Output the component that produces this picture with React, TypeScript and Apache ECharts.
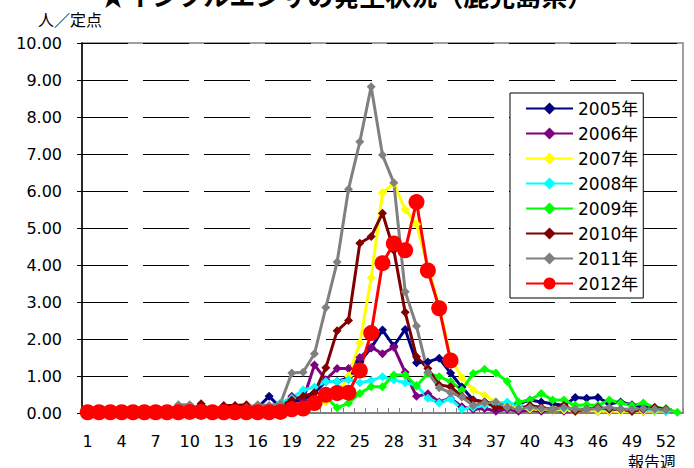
import React, { useEffect, useRef } from "react";
import * as echarts from "echarts";

const weeks = [
  "1","2","3","4","5","6","7","8","9","10","11","12","13","14","15","16","17","18","19","20",
  "21","22","23","24","25","26","27","28","29","30","31","32","33","34","35","36","37","38","39","40",
  "41","42","43","44","45","46","47","48","49","50","51","52","53",
];

const yTicks = [0, 1, 2, 3, 4, 5, 6, 7, 8, 9, 10];

const y2005 = [
  0.02,0.02,0.02,0.02,0.02,0.02,0.02,0.03,0.05,0.08,0.05,0.08,0.1,0.1,0.12,0.15,0.45,0.15,0.3,0.35,
  0.55,0.85,0.85,0.95,1.38,1.76,2.24,1.81,2.26,1.36,1.38,1.48,1.08,0.7,0.35,0.3,0.25,0.2,0.25,0.35,
  0.3,0.25,0.2,0.42,0.4,0.42,0.25,0.3,0.22,0.15,0.15,0.08,null,
];
const y2006 = [
  0.02,0.02,0.02,0.02,0.02,0.02,0.02,0.02,0.02,0.03,0.03,0.05,0.05,0.05,0.08,0.08,0.1,0.2,0.45,0.35,
  1.3,0.9,1.2,1.2,1.5,1.78,1.6,1.78,1.1,0.45,0.52,0.3,0.4,0.17,0.1,0.12,0.05,0.1,0.05,0.08,
  0.05,0.08,0.05,0.05,0.08,0.05,0.05,0.08,0.05,0.05,0.05,0.05,null,
];
const y2007 = [
  0.02,0.02,0.02,0.02,0.02,0.02,0.02,0.02,0.02,0.02,0.02,0.02,0.02,0.02,0.02,0.03,0.03,0.03,0.05,0.1,
  0.2,0.3,0.5,1.0,1.9,3.65,5.95,6.2,5.5,5.1,3.95,2.9,1.5,0.95,0.62,0.48,0.3,0.2,0.15,0.1,
  0.1,0.08,0.08,0.05,0.08,0.05,0.05,0.05,0.05,0.05,0.05,0.05,null,
];
const y2008 = [
  0.03,0.03,0.03,0.03,0.03,0.03,0.03,0.03,0.03,0.03,0.03,0.05,0.05,0.05,0.08,0.1,0.15,0.27,0.4,0.62,
  0.7,0.85,0.85,0.9,0.82,0.88,0.98,0.89,0.82,0.75,0.4,0.27,0.38,0.1,0.15,0.2,0.25,0.3,0.2,0.15,
  0.12,0.1,0.12,0.1,0.1,0.12,0.1,0.1,0.1,0.08,0.08,0.05,null,
];
const y2009 = [
  0.0,0.0,0.0,0.0,0.0,0.0,0.0,0.0,0.0,0.0,0.0,0.0,0.0,0.0,0.02,0.02,0.03,0.05,0.1,0.2,
  0.3,0.44,0.14,0.27,0.53,0.71,0.71,1.03,1.03,0.73,1.07,0.98,0.85,0.62,1.07,1.18,1.08,0.85,0.3,0.35,
  0.53,0.35,0.35,0.2,0.22,0.2,0.35,0.27,0.2,0.27,0.15,0.12,0.02,
];
const y2010 = [
  0.02,0.02,0.02,0.02,0.02,0.02,0.02,0.02,0.03,0.05,0.25,0.05,0.2,0.2,0.22,0.1,0.15,0.2,0.35,0.45,
  0.55,1.22,2.22,2.5,4.59,4.77,5.4,4.4,2.72,1.52,1.2,0.76,0.71,0.45,0.35,0.3,0.15,0.15,0.1,0.2,
  0.15,0.1,0.2,0.05,0.1,0.15,0.1,0.1,0.05,0.1,0.15,0.1,null,
];
const y2011 = [
  0.02,0.02,0.02,0.02,0.02,0.02,0.02,0.02,0.22,0.22,0.1,0.1,0.1,0.1,0.15,0.22,0.2,0.25,1.08,1.1,
  1.6,2.85,4.08,6.05,7.33,8.82,6.97,6.22,3.28,2.35,1.1,0.68,0.55,0.43,0.2,0.28,0.3,0.15,0.1,0.15,
  0.12,0.1,0.15,0.1,0.1,0.12,0.15,0.1,0.1,0.12,0.1,0.08,null,
];
const y2012 = [
  0.02,0.02,0.02,0.02,0.02,0.02,0.02,0.02,0.02,0.03,0.03,0.02,0.02,0.02,0.02,0.02,0.02,0.03,0.1,0.12,
  0.27,0.49,0.54,0.55,1.15,2.16,4.05,4.58,4.4,5.7,3.85,2.83,1.42,null,null,null,null,null,null,null,
  null,null,null,null,null,null,null,null,null,null,null,null,null,
];

const seriesDefs = [
  { name: "2005年", data: y2005, color: "#000080", symbol: "diamond", size: 9 },
  { name: "2006年", data: y2006, color: "#800080", symbol: "diamond", size: 9 },
  { name: "2007年", data: y2007, color: "#FFFF00", symbol: "diamond", size: 9 },
  { name: "2008年", data: y2008, color: "#00FFFF", symbol: "diamond", size: 9 },
  { name: "2009年", data: y2009, color: "#00FF00", symbol: "diamond", size: 9 },
  { name: "2010年", data: y2010, color: "#800000", symbol: "diamond", size: 9 },
  { name: "2011年", data: y2011, color: "#808080", symbol: "diamond", size: 9 },
  { name: "2012年", data: y2012, color: "#FF0000", symbol: "circle", size: 16 },
];

const FONT = '"DejaVu Sans", "Noto Sans CJK JP", sans-serif';

export default function App() {
  const ref = useRef<HTMLDivElement>(null);
  useEffect(() => {
    if (!ref.current) return;
    const chart = echarts.init(ref.current, undefined, { renderer: "svg" });
    chart.setOption({
      animation: false,
      backgroundColor: "#ffffff",
      grid: {
        left: 82,
        right: 11,
        top: 43,
        bottom: 55,
        show: true,
        borderColor: "#808080",
        borderWidth: 1.5,
        outerBoundsMode: "none",
      },
      legend: {
        orient: "vertical",
        left: 510,
        top: 93,
        backgroundColor: "#ffffff",
        borderColor: "#000000",
        borderWidth: 1,
        borderRadius: 0,
        padding: [7, 5, 6, 15],
        itemGap: 8,
        itemWidth: 47,
        itemHeight: 15,
        textStyle: { fontSize: 17, fontFamily: FONT, color: "#000", lineHeight: 17 },
        data: seriesDefs.map((s) => s.name),
      },
      xAxis: {
        type: "category",
        data: weeks,
        boundaryGap: true,
        axisLine: { lineStyle: { color: "#808080", width: 2 } },
        axisTick: { show: true, inside: true, length: 5, interval: 0, lineStyle: { color: "#808080", width: 1 } },
        axisLabel: { interval: 2, margin: 20, fontSize: 16, fontFamily: FONT, color: "#000" },
        splitLine: { show: false },
      },
      yAxis: {
        type: "value",
        min: yTicks[0],
        max: yTicks[yTicks.length - 1],
        interval: 1,
        axisLine: { show: true, lineStyle: { color: "#000", width: 1.5 } },
        axisTick: { show: true, inside: false, length: 5, lineStyle: { color: "#000", width: 1 } },
        axisLabel: {
          margin: 20,
          fontSize: 16,
          fontFamily: FONT,
          color: "#000",
          formatter: (v: number) => v.toFixed(2),
        },
        splitLine: { show: true, lineStyle: { color: "#000", width: 1, type: [46, 15] } },
      },
      graphic: [
        {
          type: "text",
          left: "center",
          top: -19,
          style: {
            text: "★インフルエンザの発生状況（鹿児島県）",
            fontSize: 26,
            fontWeight: "bold",
            fontFamily: '"Noto Sans CJK JP", sans-serif',
            fill: "#000",
          },
        },
        {
          type: "text",
          x: 38,
          y: 11,
          style: {
            text: "人／定点",
            fontSize: 16,
            fontFamily: '"Noto Sans CJK JP", sans-serif',
            fill: "#000",
          },
        },
        {
          type: "text",
          x: 628,
          y: 453,
          style: {
            text: "報告週",
            fontSize: 16,
            fontFamily: '"Noto Sans CJK JP", sans-serif',
            fill: "#000",
          },
        },
      ],
      series: seriesDefs.map((s) => ({
        name: s.name,
        type: "line",
        data: s.data,
        symbol: s.symbol,
        symbolSize: s.size,
        showSymbol: true,
        showAllSymbol: true,
        connectNulls: false,
        itemStyle: { color: s.color },
        lineStyle: { color: s.color, width: 3 },
        emphasis: { disabled: true },
      })),
    });
    return () => chart.dispose();
  }, []);
  return (
    <div
      ref={ref}
      style={{ position: "fixed", left: 0, top: 0, width: 694, height: 468, background: "#fff" }}
    />
  );
}
